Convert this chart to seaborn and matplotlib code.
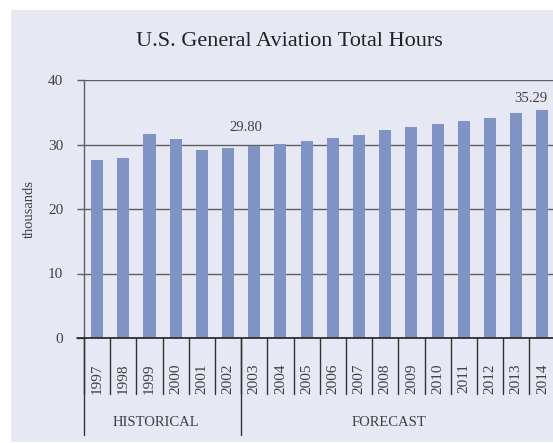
import matplotlib
matplotlib.use("Agg")
import matplotlib.pyplot as plt
import matplotlib.patches as mpatches
import matplotlib.transforms as mtransforms
import seaborn as sns
import pandas as pd

years = ["1997", "1998", "1999", "2000", "2001", "2002", "2003", "2004", "2005",
         "2006", "2007", "2008", "2009", "2010", "2011", "2012", "2013", "2014"]
hours = [27.6, 27.9, 31.6, 30.9, 29.1, 29.5, 29.80, 30.1, 30.5,
         31.0, 31.5, 32.2, 32.7, 33.2, 33.6, 34.1, 34.9, 35.29]
groups = ["HISTORICAL", "FORECAST"]
group_sizes = [6, 12]
labelled = {"2003": "29.80", "2014": "35.29"}
y_ticks = [0, 10, 20, 30, 40]

df = pd.DataFrame({"year": years, "hours": hours})

sns.set_theme(style="white")
plt.rcParams["font.family"] = ["Liberation Serif", "DejaVu Serif"]

W, H = 553, 443
fig = plt.figure(figsize=(W / 100, H / 100), dpi=100)
fig.patch.set_facecolor("white")
bg = "#E6E9F3"
fig.patches.append(mpatches.Rectangle((11 / W, 1 / H), 1, (H - 11) / H,
                                      transform=fig.transFigure, facecolor=bg,
                                      edgecolor="none", zorder=-10))

left, right, top, bottom = 84, 555.5, 80, 338
ax = fig.add_axes([left / W, (H - bottom) / H, (right - left) / W, (bottom - top) / H])
ax.set_facecolor(bg)
ax.patch.set_alpha(0)

sns.barplot(data=df, x="year", y="hours", color="#7F93C4", saturation=1,
            width=0.46, ax=ax, zorder=3, edgecolor="none", linewidth=0)

ax.set_ylim(0, 40)
ax.set_xlim(-0.5, len(years) - 0.5)
ax.set_yticks(y_ticks)
ax.set_yticklabels([str(t) for t in y_ticks], fontsize=11, color="#404040")
ax.grid(axis="y", color="#5f5f5f", linewidth=1.0, zorder=1)
ax.set_axisbelow(True)
for s in ["top", "right", "bottom"]:
    ax.spines[s].set_visible(False)
ax.spines["left"].set_color("#5f5f5f")
ax.spines["left"].set_linewidth(1.0)
ax.tick_params(axis="y", which="major", left=True, length=5, width=1,
               color="#5f5f5f", direction="out", pad=10)
trans_x = mtransforms.blended_transform_factory(ax.transData, ax.transAxes)
ax.axhline(0, color="#222222", linewidth=1.2, zorder=4, clip_on=False)
ax.plot([-0.5 - 7 / 26.19, -0.5], [0, 0], transform=trans_x, color="#222222",
        linewidth=1.2, clip_on=False)

ax.set_xlabel("")
ax.set_ylabel("thousands", fontsize=10.5, color="#404040", labelpad=9)
ax.tick_params(axis="x", which="major", bottom=False, length=0, pad=18)
ax.set_xticks(range(len(years)))
ax.set_xticklabels(years, rotation=90, fontsize=11, color="#404040",
                   va="top", ha="center")

ah = bottom - top
for i in range(len(years) + 1):
    ax.plot([i - 0.5, i - 0.5], [0, -56 / ah], transform=trans_x,
            color="#333333", linewidth=1.0, clip_on=False)
b = -0.5
bounds = [b]
for n in group_sizes:
    b += n
    bounds.append(b)
for xb in bounds:
    ax.plot([xb, xb], [0, -97 / ah], transform=trans_x, color="#333333",
            linewidth=1.0, clip_on=False)
group_pos = [2.25, 11.15]
for g, gx in zip(groups, group_pos):
    ax.text(gx, -(423 - bottom) / ah, g, transform=trans_x, ha="center",
            va="center", fontsize=10.5, color="#404040")

offsets = {"2003": (-8, 12), "2014": (-12, 5)}
for yr, txt in labelled.items():
    i = years.index(yr)
    ax.annotate(txt, (i, hours[i]), xytext=offsets[yr],
                textcoords="offset pixels", ha="center", va="bottom",
                fontsize=10.5, color="#404040")

fig.text(289 / W, (H - 42) / H, "U.S. General Aviation Total Hours",
         ha="center", va="center", fontsize=16, color="#222222")

fig.savefig("out.png", dpi=100, facecolor=fig.get_facecolor())
